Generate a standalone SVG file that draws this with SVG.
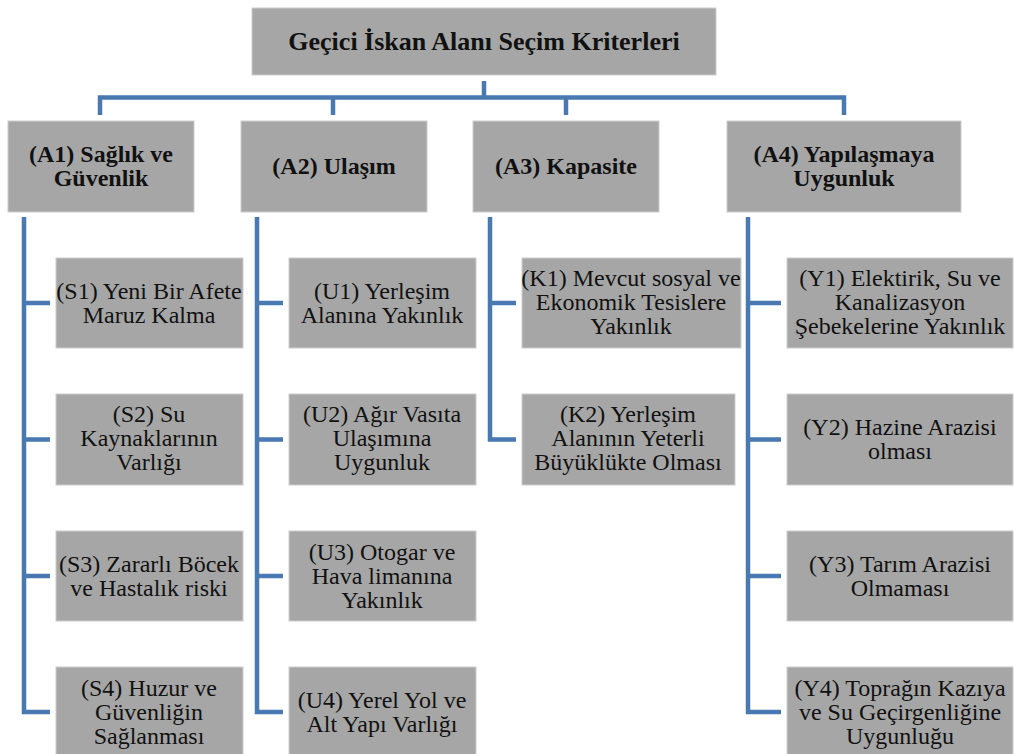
<svg xmlns="http://www.w3.org/2000/svg" width="1014" height="754" viewBox="0 0 1014 754">
  <style>
    .box { fill: #a6a6a6; stroke: #cdcdcd; stroke-width: 1; }
    .t { font-family: "Liberation Serif", "Times New Roman", serif; fill: #111; text-anchor: middle; }
    .h1 { font-size: 26px; font-weight: bold; }
    .h2 { font-size: 24px; font-weight: bold; }
    .h3 { font-size: 24px; }
    .link { fill: none; stroke: #4a78b0; stroke-width: 4.5; stroke-linejoin: miter; stroke-linecap: butt; }
  </style>
  <rect width="1014" height="754" fill="#ffffff"/>

  <!-- connectors -->
  <g id="connectors" class="link">
    <path d="M484,81 V97.5"/>
    <path d="M100,115 V97.5 H844 V115"/>
    <path d="M333,97.5 V115"/>
    <path d="M566,97.5 V115"/>
    <!-- A1 branch -->
    <path d="M24,217 V712 H50"/>
    <path d="M24,303 H50 M24,439.5 H50 M24,576 H50"/>
    <!-- A2 branch -->
    <path d="M257,217 V712 H283"/>
    <path d="M257,303 H283 M257,439.5 H283 M257,576 H283"/>
    <!-- A3 branch -->
    <path d="M490,217 V439.5 H516"/>
    <path d="M490,303 H516"/>
    <!-- A4 branch -->
    <path d="M748,217 V712 H781"/>
    <path d="M748,303 H781 M748,439.5 H781 M748,576 H781"/>
  </g>

  <!-- root -->
  <g id="root">
    <rect class="box" x="252" y="8" width="464" height="67"/>
    <text class="t h1" x="484" y="50">Geçici İskan Alanı Seçim Kriterleri</text>
  </g>

  <!-- main criteria -->
  <g id="A1">
    <rect class="box" x="8" y="121" width="186" height="91"/>
    <text class="t h2" x="101" y="162">(A1) Sağlık ve</text>
    <text class="t h2" x="101" y="186">Güvenlik</text>
  </g>
  <g id="A2">
    <rect class="box" x="241" y="121" width="186" height="91"/>
    <text class="t h2" x="334" y="174">(A2) Ulaşım</text>
  </g>
  <g id="A3">
    <rect class="box" x="473" y="121" width="186" height="91"/>
    <text class="t h2" x="566" y="174">(A3) Kapasite</text>
  </g>
  <g id="A4">
    <rect class="box" x="727" y="121" width="234" height="91"/>
    <text class="t h2" x="844" y="162">(A4) Yapılaşmaya</text>
    <text class="t h2" x="844" y="186">Uygunluk</text>
  </g>

  <!-- A1 sub-criteria -->
  <g id="S1">
    <rect class="box" x="56" y="258" width="187" height="90"/>
    <text class="t h3" x="149" y="299">(S1) Yeni Bir Afete</text>
    <text class="t h3" x="149" y="323">Maruz Kalma</text>
  </g>
  <g id="S2">
    <rect class="box" x="56" y="394" width="187" height="91"/>
    <text class="t h3" x="149" y="422">(S2) Su</text>
    <text class="t h3" x="149" y="446">Kaynaklarının</text>
    <text class="t h3" x="149" y="470">Varlığı</text>
  </g>
  <g id="S3">
    <rect class="box" x="56" y="531" width="187" height="90"/>
    <text class="t h3" x="149" y="572">(S3) Zararlı Böcek</text>
    <text class="t h3" x="149" y="596">ve Hastalık riski</text>
  </g>
  <g id="S4">
    <rect class="box" x="56" y="667" width="187" height="91"/>
    <text class="t h3" x="149" y="696">(S4) Huzur ve</text>
    <text class="t h3" x="149" y="720">Güvenliğin</text>
    <text class="t h3" x="149" y="744">Sağlanması</text>
  </g>

  <!-- A2 sub-criteria -->
  <g id="U1">
    <rect class="box" x="289" y="258" width="187" height="90"/>
    <text class="t h3" x="382" y="299">(U1) Yerleşim</text>
    <text class="t h3" x="382" y="323">Alanına Yakınlık</text>
  </g>
  <g id="U2">
    <rect class="box" x="289" y="394" width="187" height="91"/>
    <text class="t h3" x="382" y="422">(U2) Ağır Vasıta</text>
    <text class="t h3" x="382" y="446">Ulaşımına</text>
    <text class="t h3" x="382" y="470">Uygunluk</text>
  </g>
  <g id="U3">
    <rect class="box" x="289" y="531" width="187" height="90"/>
    <text class="t h3" x="382" y="560">(U3) Otogar ve</text>
    <text class="t h3" x="382" y="584">Hava limanına</text>
    <text class="t h3" x="382" y="608">Yakınlık</text>
  </g>
  <g id="U4">
    <rect class="box" x="289" y="667" width="187" height="91"/>
    <text class="t h3" x="382" y="708">(U4) Yerel Yol ve</text>
    <text class="t h3" x="382" y="732">Alt Yapı Varlığı</text>
  </g>

  <!-- A3 sub-criteria -->
  <g id="K1">
    <rect class="box" x="522" y="258" width="219" height="90"/>
    <text class="t h3" x="631" y="286">(K1) Mevcut sosyal ve</text>
    <text class="t h3" x="631" y="310">Ekonomik Tesislere</text>
    <text class="t h3" x="631" y="334">Yakınlık</text>
  </g>
  <g id="K2">
    <rect class="box" x="522" y="394" width="213" height="91"/>
    <text class="t h3" x="628" y="422">(K2) Yerleşim</text>
    <text class="t h3" x="628" y="446">Alanının Yeterli</text>
    <text class="t h3" x="628" y="470">Büyüklükte Olması</text>
  </g>

  <!-- A4 sub-criteria -->
  <g id="Y1">
    <rect class="box" x="787" y="258" width="226" height="90"/>
    <text class="t h3" x="900" y="286">(Y1) Elektirik, Su ve</text>
    <text class="t h3" x="900" y="310">Kanalizasyon</text>
    <text class="t h3" x="900" y="334">Şebekelerine Yakınlık</text>
  </g>
  <g id="Y2">
    <rect class="box" x="787" y="394" width="226" height="91"/>
    <text class="t h3" x="900" y="435">(Y2) Hazine Arazisi</text>
    <text class="t h3" x="900" y="459">olması</text>
  </g>
  <g id="Y3">
    <rect class="box" x="787" y="531" width="226" height="90"/>
    <text class="t h3" x="900" y="572">(Y3) Tarım Arazisi</text>
    <text class="t h3" x="900" y="596">Olmaması</text>
  </g>
  <g id="Y4">
    <rect class="box" x="787" y="667" width="226" height="91"/>
    <text class="t h3" x="900" y="696">(Y4) Toprağın Kazıya</text>
    <text class="t h3" x="900" y="720">ve Su Geçirgenliğine</text>
    <text class="t h3" x="900" y="744">Uygunluğu</text>
  </g>
</svg>
